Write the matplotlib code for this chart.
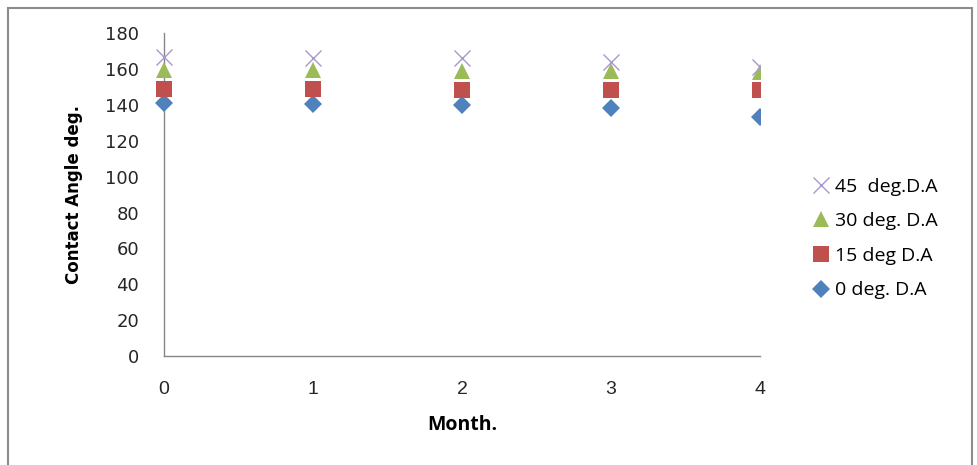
import matplotlib.pyplot as plt
from matplotlib.patches import Rectangle
from matplotlib.transforms import Bbox, TransformedBbox

# data
months = [0, 1, 2, 3, 4]
deg0 = [141, 140.5, 140, 138, 133]
deg15 = [149, 148.8, 148.4, 148, 148]
deg30 = [159.5, 159.5, 159, 158.6, 158.3]
deg45 = [166.5, 166, 166, 164, 161]

series = [
    ("0 deg. D.A", deg0, "D", "#4F81BD", 9),
    ("15 deg D.A", deg15, "s", "#C0504D", 11),
    ("30 deg. D.A", deg30, "^", "#9BBB59", 12),
    ("45  deg.D.A", deg45, "x", "#A898CC", 11),
]

fig = plt.figure(figsize=(9.77, 4.65), dpi=100)
ax = fig.add_axes([0.168, 0.234, 0.610, 0.695])

# outer chart border
fig.patches.append(Rectangle((8 / 977, -0.01), 964 / 977, 1 - 8 / 465 + 0.01,
                             transform=fig.transFigure, fill=False,
                             edgecolor="#8c8c8c", linewidth=1.5))

handles = {}
clip = TransformedBbox(Bbox([[-0.1, -0.1], [1.0, 1.1]]), ax.transAxes)
for label, vals, marker, color, ms in series:
    line, = ax.plot(months, vals, linestyle="none", marker=marker, color=color,
                    markersize=ms, markeredgewidth=1.0 if marker == "x" else 0,
                    label=label, zorder=3)
    line.set_clip_box(clip)
    handles[label] = line

ax.set_xlim(0, 4)
ax.set_ylim(0, 180)
ax.set_yticks(range(0, 181, 20))
ax.set_xticks(months)
ax.tick_params(axis="both", length=0, colors="#262626")
ax.tick_params(axis="y", pad=18, labelsize=13)
ax.tick_params(axis="x", pad=18, labelsize=14)
for t in ax.get_xticklabels():
    t.set_fontfamily("Liberation Sans")
for t in ax.get_yticklabels():
    t.set_fontfamily("DejaVu Sans")

for side in ["top", "right"]:
    ax.spines[side].set_visible(False)
for side in ["left", "bottom"]:
    ax.spines[side].set_color("#868686")
    ax.spines[side].set_linewidth(1.0)

ax.set_xlabel("Month.", fontsize=14, fontweight="bold", family="Open Sans", labelpad=12)
ax.set_ylabel("Contact Angle deg.", fontsize=12, fontweight="bold", family="Liberation Sans Narrow", labelpad=16)

order = ["45  deg.D.A", "30 deg. D.A", "15 deg D.A", "0 deg. D.A"]
fig.legend([handles[k] for k in order], order, loc="center left",
           bbox_to_anchor=(0.813, 0.487), frameon=False,
           handlelength=0.9, handletextpad=0.3, labelspacing=0.85,
           prop={"family": "Open Sans", "size": 14})

plt.savefig("out.png", dpi=100)
